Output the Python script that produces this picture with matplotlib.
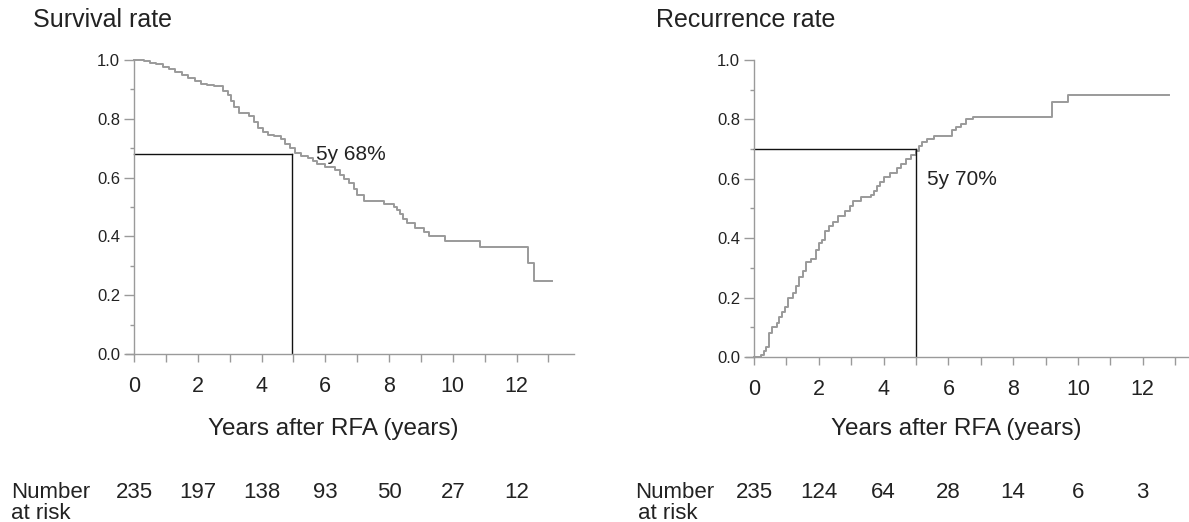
import matplotlib.pyplot as plt
import matplotlib.transforms as mtransforms
from matplotlib.ticker import MultipleLocator, FixedFormatter, FixedLocator

plt.rcParams['font.family'] = ['Liberation Sans', 'DejaVu Sans']

# Kaplan-Meier overall survival
surv_t = [0, 0.3, 0.5, 0.7, 0.9, 1.1, 1.3, 1.5, 1.7, 1.9, 2.1, 2.3, 2.5, 2.8, 2.95,
          3.05, 3.15, 3.3, 3.6, 3.75, 3.9, 4.05, 4.2, 4.4, 4.6, 4.75, 4.9, 5.05, 5.25,
          5.45, 5.6, 5.75, 6.0, 6.3, 6.45, 6.6, 6.75, 6.9, 7.0, 7.2, 7.85, 8.15, 8.25,
          8.35, 8.45, 8.55, 8.8, 9.1, 9.25, 9.75, 10.85, 12.35, 12.55, 13.1]
surv_s = [1.0, 0.995, 0.99, 0.985, 0.975, 0.97, 0.96, 0.95, 0.94, 0.93, 0.92, 0.915,
          0.91, 0.895, 0.88, 0.86, 0.84, 0.82, 0.81, 0.79, 0.77, 0.755, 0.745, 0.74,
          0.73, 0.715, 0.70, 0.685, 0.675, 0.665, 0.655, 0.645, 0.635, 0.625, 0.61,
          0.595, 0.58, 0.56, 0.54, 0.52, 0.51, 0.50, 0.49, 0.475, 0.46, 0.445, 0.43,
          0.415, 0.40, 0.385, 0.365, 0.31, 0.25, 0.25]

# cumulative recurrence
rec_t = [0, 0.22, 0.3, 0.38, 0.45, 0.55, 0.7, 0.78, 0.85, 0.95, 1.05, 1.2, 1.3, 1.4,
         1.5, 1.6, 1.75, 1.9, 2.0, 2.1, 2.2, 2.3, 2.45, 2.6, 2.8, 2.95, 3.05, 3.3, 3.6,
         3.7, 3.8, 3.9, 4.0, 4.2, 4.4, 4.55, 4.7, 4.85, 5.0, 5.1, 5.2, 5.35, 5.55, 6.1,
         6.25, 6.4, 6.55, 6.75, 9.2, 9.7, 12.8]
rec_r = [0, 0.008, 0.02, 0.035, 0.08, 0.1, 0.115, 0.135, 0.15, 0.17, 0.2, 0.215, 0.24,
         0.27, 0.29, 0.32, 0.33, 0.36, 0.385, 0.395, 0.425, 0.44, 0.455, 0.475, 0.49,
         0.51, 0.525, 0.54, 0.545, 0.56, 0.575, 0.59, 0.605, 0.62, 0.635, 0.65, 0.665,
         0.68, 0.695, 0.71, 0.725, 0.735, 0.745, 0.765, 0.775, 0.785, 0.8, 0.808, 0.858,
         0.882, 0.882]

risk_years = [0, 2, 4, 6, 8, 10, 12]
surv_at_risk = [235, 197, 138, 93, 50, 27, 12]
rec_at_risk = [235, 124, 64, 28, 14, 6, 3]

W, H = 1189, 522
GRAY = '#9a9a9a'
INK = '#222222'


def px(x, y):
    return x / W, 1 - y / H


def style_axis(ax, xmax):
    ax.set_xlim(-0.25, xmax)
    ax.set_ylim(0, 1.0)
    for s in ['top', 'right']:
        ax.spines[s].set_visible(False)
    ax.spines['left'].set_position(('data', 0))
    for s in ['left', 'bottom']:
        ax.spines[s].set_color(GRAY)
        ax.spines[s].set_linewidth(1.0)
    ax.spines['left'].set_bounds(0, 1.0)
    ax.xaxis.set_major_locator(FixedLocator(list(range(0, 14))))
    ax.xaxis.set_major_formatter(FixedFormatter(
        [str(i) if i % 2 == 0 else '' for i in range(0, 14)]))
    ax.yaxis.set_major_locator(MultipleLocator(0.2))
    ax.yaxis.set_minor_locator(MultipleLocator(0.1))
    ax.yaxis.set_major_formatter(plt.FuncFormatter(lambda v, p: f'{v:.1f}'))
    ax.tick_params(axis='x', length=6, width=1, color=GRAY, labelsize=15.5,
                   pad=10, labelcolor=INK)
    ax.tick_params(axis='y', which='major', length=7, width=1, color=GRAY,
                   labelsize=12, pad=3, labelcolor=INK)
    ax.tick_params(axis='y', which='minor', length=3, width=1, color=GRAY)


def bottom_text(ax, counts, num_x, risk_x):
    tr = mtransforms.blended_transform_factory(ax.transData, fig.transFigure)
    ax.text(6.25, 1 - 435 / H, 'Years after RFA (years)', transform=tr,
            ha='center', va='baseline', fontsize=17.5, color=INK)
    for yr, n in zip(risk_years, counts):
        ax.text(yr, 1 - 498 / H, str(n), transform=tr, ha='center',
                va='baseline', fontsize=16, color=INK)
    fig.text(*px(num_x, 498), 'Number', va='baseline', fontsize=16, color=INK)
    fig.text(*px(risk_x, 519), 'at risk', va='baseline', fontsize=16, color=INK)


fig = plt.figure(figsize=(W / 100, H / 100), dpi=100)

ax1 = fig.add_axes([126 / W, (H - 354) / H, (574 - 126) / W, (354 - 60) / H])
style_axis(ax1, 13.8)
ax1.plot(surv_t, surv_s, drawstyle='steps-post', color=GRAY, lw=1.4, clip_on=False)
ax1.plot([0, 4.95], [0.68, 0.68], color='#111111', lw=1.0)
ax1.plot([4.95, 4.95], [0, 0.68], color='#111111', lw=1.0)
ax1.text(5.7, 0.677, '5y 68%', fontsize=15, va='center', color=INK)
bottom_text(ax1, surv_at_risk, 11, 11)

ax2 = fig.add_axes([746 / W, (H - 357) / H, (1188 - 746) / W, (357 - 60) / H])
style_axis(ax2, 13.4)
ax2.plot(rec_t, rec_r, drawstyle='steps-post', color=GRAY, lw=1.4, clip_on=False)
ax2.plot([0, 5.0], [0.70, 0.70], color='#111111', lw=1.0)
ax2.plot([5.0, 5.0], [0, 0.70], color='#111111', lw=1.0)
ax2.text(5.34, 0.596, '5y 70%', fontsize=15, va='center', color=INK)
bottom_text(ax2, rec_at_risk, 635, 638)

fig.text(*px(33, 27), 'Survival rate', va='baseline', fontsize=18, color=INK)
fig.text(*px(656, 27), 'Recurrence rate', va='baseline', fontsize=18, color=INK)

plt.savefig('out.png', dpi=100)
